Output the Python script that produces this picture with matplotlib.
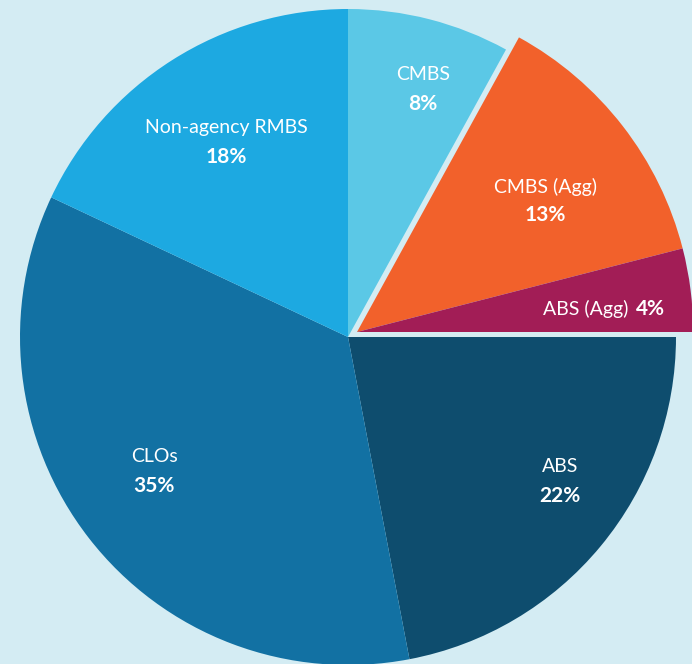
import matplotlib
matplotlib.use('Agg')
import matplotlib.pyplot as plt

# Sector allocation (%), clockwise from 12 o'clock
sectors = ["CMBS", "CMBS (Agg)", "ABS (Agg)", "ABS", "CLOs", "Non-agency RMBS"]
shares = [8, 13, 4, 22, 35, 18]
pct_labels = ["8%", "13%", "4%", "22%", "35%", "18%"]
exploded = [False, True, True, False, False, False]

COLORS = ["#5BC8E6", "#F2612B", "#A21D56", "#0E4D6E", "#1271A3", "#1DA9E1"]
BG = "#D4ECF3"

W, H = 692, 664
CX, CY, R_PX = 348, 337, 328


def px(x, y):
    """pixel (from top-left) -> data coords, pie radius = 1"""
    return (x - CX) / R_PX, (CY - y) / R_PX


fig = plt.figure(figsize=(W / 100, H / 100), dpi=100)
fig.patch.set_facecolor(BG)
ax = fig.add_axes([0, 0, 1, 1])
ax.set_facecolor(BG)

wedges, _ = ax.pie(shares, colors=COLORS, startangle=90, counterclock=False,
                   radius=1, wedgeprops=dict(linewidth=0))

# the two "Agg" slices are pulled out together as one group
shift = (9 / R_PX, 5 / R_PX)
for w, ex in zip(wedges, exploded):
    if ex:
        w.set_center(shift)
        w.set_radius(1.025)

ax.set_xlim(-CX / R_PX, (W - CX) / R_PX)
ax.set_ylim(-(H - CY) / R_PX, CY / R_PX)
ax.set_aspect('equal')
ax.axis('off')

FONT = "Lato"
name_kw = dict(color="white", fontsize=14, family=FONT,
               ha="center", va="center")
pct_kw = dict(color="white", fontsize=15, family=FONT, fontweight="bold",
              ha="center", va="center")

# label anchors (pixels): name centre, pct centre
label_pos = {
    "CMBS": ((423, 75), (423, 104)),
    "CMBS (Agg)": ((545, 187), (545, 215)),
    "ABS": ((560, 467), (560, 496)),
    "CLOs": ((154, 457), (154, 486)),
    "Non-agency RMBS": ((226, 128), (226, 157)),
}

for name, pct in zip(sectors, pct_labels):
    if name == "ABS (Agg)":
        ax.text(*px(628, 309), name, **{**name_kw, "ha": "right"})
        ax.text(*px(636, 309), pct, **{**pct_kw, "ha": "left"})
        continue
    (nx, ny), (qx, qy) = label_pos[name]
    ax.text(*px(nx, ny), name, **name_kw)
    ax.text(*px(qx, qy), pct, **pct_kw)

fig.savefig("out.png", dpi=100, facecolor=BG)
